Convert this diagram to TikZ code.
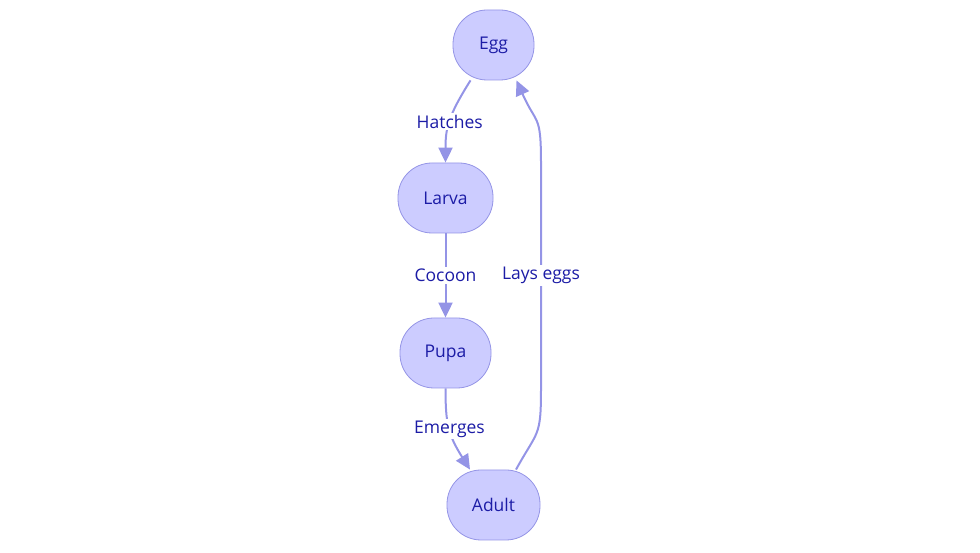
\documentclass[tikz,border=0pt]{standalone}
\usepackage{fontspec}
\setmainfont{Open Sans}
\usepackage{xcolor}
\usepackage{tikz}
\usetikzlibrary{arrows.meta,positioning}
\definecolor{mmfill}{HTML}{CCCCFF}
\definecolor{mmline}{HTML}{9494E6}
\definecolor{mmtext}{HTML}{1C1CA6}

\begin{document}
\begin{tikzpicture}[x=1pt,y=1pt,font=\fontsize{17.5}{21}\selectfont]
  \tikzstyle{stage}=[draw=mmline,fill=mmfill,text=mmtext,rounded corners=34pt,minimum height=70pt,line width=0.8pt]
  \tikzstyle{edge}=[-{Triangle[length=15pt,width=14pt]},line width=2pt,mmline]
  \tikzstyle{lbl}=[fill=white,text=mmtext,inner sep=2pt]
  \useasboundingbox (0,0) rectangle (980,553);
  % life stages
  \node[stage,minimum width=81pt] (egg) at (493.5,508) {Egg};
  \node[stage,minimum width=95pt] (larva) at (445.5,355) {Larva};
  \node[stage,minimum width=91pt] (pupa) at (445.5,200) {Pupa};
  \node[stage,minimum width=93pt] (adult) at (493.5,48) {Adult};
  % down the left lane
  \draw[edge] ([xshift=-23pt]egg.south) .. controls +(-22,-35) and +(0,35) ..
    node[lbl,pos=0.5]{Hatches} (larva.north);
  \draw[edge] (larva.south) -- node[lbl]{Cocoon} (pupa.north);
  \draw[edge] (pupa.south) .. controls +(0,-35) and +(-22,35) ..
    node[lbl,pos=0.5]{Emerges} ([xshift=-23.5pt]adult.north);
  % back up the right side
  \draw[edge] ([xshift=22.5pt]adult.north) .. controls +(22,40) and +(0,-50) .. (541,165)
    -- node[lbl]{Lays eggs} (541,390)
    .. controls +(0,50) and +(20,-45) .. ([xshift=23pt]egg.south);
\end{tikzpicture}
\end{document}
